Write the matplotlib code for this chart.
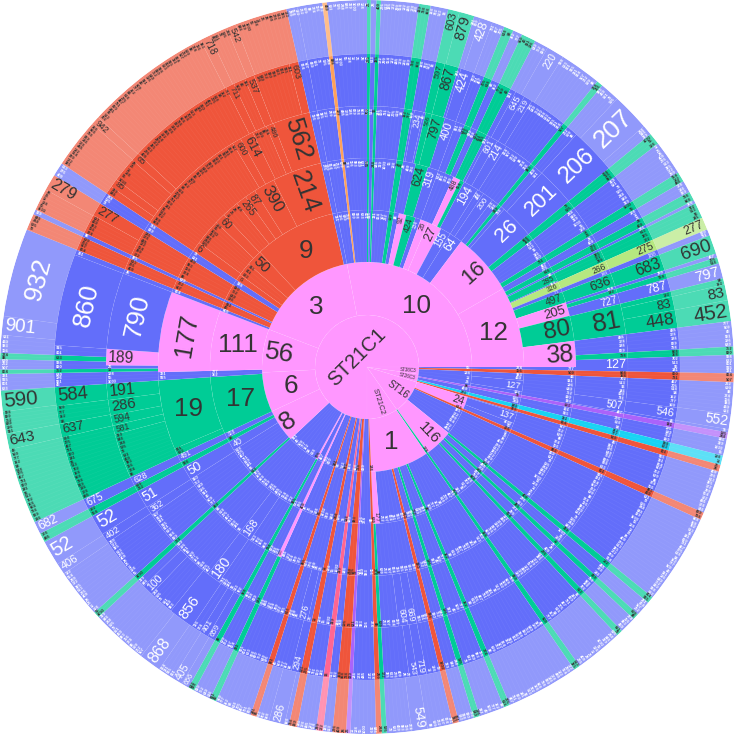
import numpy as np
import matplotlib
matplotlib.use('Agg')
import matplotlib.pyplot as plt

plt.rcParams['font.family'] = ['Liberation Sans', 'DejaVu Sans']

# group colours, same letters are used in the ring lists below
colors = {'b': '#636efa', 'g': '#00cc96', 'r': '#ef553b', 'p': '#ff97ff', 'y': '#b6e880',
          'o': '#ffa15a', 'v': '#ab63fa', 'c': '#19d3f3', 'h': '#ff6692'}

ring_edges = [0, 52, 105, 157, 209, 261, 313, 367]

# ids of the tiny nodes, too small to read one by one
tiny_ids = ['55', '138', '11', '26', '28', '409', '276', '613', '385', '172', '299', '554',
            '122', '445', '178', '146', '839', '728', '668', '358', '702', '513', '96', '341',
            '860', '731', '467', '205', '618', '94', '352', '777', '509', '43', '921', '186',
            '640', '752', '820', '938', '633', '801', '915', '331', '864', '507', '262', '699',
            '88', '374', '156', '983', '430', '621', '72', '595', '248', '846', '319', '1003']

# (angular share, group, label), '.' is a node with only a tiny id
top_bands = [(4, 'b', '.'), (.7, 'o', '.'), (6.3, 'b', '.'), (.6, 'g', '.'), (.9, 'b', '.'), (.7, 'g', '.'),
             (6, 'b', '.'), (1.8, 'g', '.')]
east_a = [(1, 'b', '.'), (1.4, 'r', '.')]
east_b = [(1, 'v', '.'), (2.7, 'b', '.'), (1.5, 'c', '.'), (1.1, 'r', '.')]
fan = [(14.3, 'b', '.'), (1.1, 'g', '.'), (2.4, 'b', '.'), (1, 'g', '.'), (2.6, 'b', '.'), (1, 'g', '.'),
       (7.6, 'b', '.'), (1, 'g', '.'), (11.5, 'b', '.'), (1, 'g', '.'), (4, 'b', '.'), (1, 'g', '.'),
       (2.4, 'b', '.'), (1, 'r', '.')]
south_a = [(.9, 'r', '.'), (4, 'b', '.'), (.7, 'v', '.'), (2.1, 'r', '.'), (1.5, 'b', '.'), (1.1, 'h', '.'),
           (3, 'b', '.'), (1.3, 'r', '.')]
west = [(1, 'b', '.'), (2.6, 'r', '.'), (.8, 'b', '.'), (6.1, 'r', '.'), (2.2, 'b', '.')]
green_run = [(1.9, 'g', '.'), (5.5, 'b', '.'), (1.6, 'g', '.'), (1.9, 'b', '.'), (1.5, 'g', '.'), (.5, 'b', '.'),
             (2.5, 'g', '.')]

ring0 = [(270, 'p', 'ST21C1'), (8, 'p', 'ST38C3'), (9, 'p', 'ST26C3'), (38, 'p', 'ST16'), (35, 'p', 'ST21C2')]

ring1 = [(101, 'p', '10')] + east_a + [(7.9, 'b', '.')] + east_b + [
    (6.8, 'p', '24'), (1.2, 'r', '.'), (14.4, 'b', '.'), (15.6, 'p', '116'), (1, 'g', '.'), (32.1, 'p', '1')
] + south_a + [
    (5.2, 'b', '.'), (1, 'r', '.'), (5.8, 'b', '.'), (1, 'p', '.'), (2.8, 'b', '.'), (1, 'p', '.'), (17.6, 'b', '.'),
    (18.3, 'p', '8'), (22, 'p', '6'), (24, 'p', '56'), (58, 'p', '3')]

ring2 = top_bands + [
    (1.8, 'b', '.'), (2.7, 'p', '92'), (3.5, 'g', '424'), (2, 'b', '234'), (3, 'p', '26'), (5.2, 'p', '27'),
    (3.8, 'b', '155'), (4.9, 'b', '64'), (23.1, 'p', '16'), (30, 'p', '12')
] + east_a + [(2.6, 'b', '.'), (4, 'b', '127'), (1.3, 'b', '.')] + east_b + [
    (.4, 'b', '.'), (4, 'b', '137'), (2.4, 'b', '.'), (1.2, 'r', '.')
] + fan + [(8.9, 'b', '.'), (2.3, 'p', '177')] + south_a + [
    (5.2, 'b', '.'), (1, 'r', '.'), (5.8, 'b', '.'), (1, 'p', '.'), (2.8, 'b', '.'), (1, 'g', '.'), (17.9, 'b', '.'),
    (1, 'g', '.'), (10, 'b', '.'), (3.5, 'b', '40'), (1.5, 'g', '.'), (2, 'b', '328'), (21.3, 'g', '17'),
    (2.3, 'b', '.'), (22.4, 'p', '111')
] + west + [(2.3, 'r', '6'), (5, 'r', '.'), (6, 'r', '50'), (30.3, 'r', '9'), (1.7, 'b', '.')]

ring3 = top_bands + [
    (3.5, 'b', '.'), (3.5, 'g', '624'), (3, 'b', '319'), (4.5, 'b', '.'), (2, 'p', '488'), (1.2, 'g', '.'),
    (4.3, 'b', '194'), (1.9, 'b', '.'), (3, 'b', '200'), (2, 'b', '.'), (1, 'g', '.'), (1.1, 'b', '.'),
    (9.6, 'b', '26'), (1.9, 'g', '.'), (5.5, 'b', '.'), (1.6, 'g', '.'), (1.9, 'b', '.'), (1.5, 'g', '.'),
    (.5, 'b', '.'), (2.2, 'g', '285'), (.3, 'b', '.'), (2, 'y', '326'), (1, 'b', '171'), (3, 'g', '497'),
    (3.8, 'p', '205'), (7, 'g', '80'), (7.2, 'p', '38')
] + east_a + [(7.9, 'b', '.')] + east_b + [(6.8, 'b', '.'), (1.2, 'r', '.')] + fan + [
    (10.4, 'b', '.'), (.8, 'g', '.')
] + south_a + [
    (5.2, 'b', '.'), (1, 'r', '.'), (5.8, 'b', '.'), (1, 'p', '243'), (2.8, 'b', '.'), (1, 'g', '.'), (4.9, 'b', '.'),
    (3.5, 'b', '168'), (9.5, 'b', '.'), (1, 'g', '.'), (9.5, 'b', '.'), (4, 'b', '50'), (1.5, 'g', '.'),
    (2, 'b', '491'), (2, 'g', '.'), (19.3, 'g', '19'), (2.3, 'b', '.'), (22.4, 'p', '177')
] + west + [
    (2.8, 'r', '6'), (7.3, 'r', '.'), (3, 'r', '60'), (4.7, 'r', '.'), (3, 'r', '265'), (3, 'r', '87'),
    (6, 'r', '390'), (13.8, 'r', '214'), (1.7, 'b', '.')]

ring4 = top_bands + [
    (.5, 'b', '.'), (2, 'b', '234'), (.5, 'b', '.'), (1.4, 'g', '566'), (3, 'g', '797'), (2.6, 'b', '400'),
    (2, 'b', '.'), (1.5, 'g', '.'), (1.5, 'b', '.'), (2.3, 'g', '.'), (.7, 'b', '.'), (2, 'b', '601'),
    (2.3, 'b', '214'), (6.6, 'b', '.'), (1, 'g', '.'), (2.1, 'b', '.'), (8.6, 'b', '201')
] + green_run + [
    (2, 'y', '266'), (1, 'b', '183'), (3, 'g', '636'), (.6, 'b', '.'), (1, 'g', '.'), (2.4, 'b', '727'),
    (6.8, 'g', '81'), (4, 'b', '.'), (1.3, 'g', '.'), (2.9, 'b', '127'), (1.4, 'r', '.'), (5.1, 'b', '.'),
    (2.5, 'b', '507'), (.3, 'b', '.')
] + east_b + [(6.8, 'b', '.'), (1.2, 'r', '.')] + fan + [
    (2.5, 'b', '.'), (2, 'b', '669'), (2, 'b', '604'), (3.9, 'b', '.'), (.8, 'g', '.')
] + south_a + [
    (.9, 'b', '.'), (2, 'b', '276'), (2.3, 'b', '.'), (1, 'r', '.'), (5.8, 'b', '.'), (1, 'g', '.'), (2.8, 'b', '.'),
    (1, 'g', '.'), (5.4, 'b', '.'), (3, 'b', '180'), (9.5, 'b', '.'), (1, 'g', '.'), (7.5, 'b', '.'),
    (2, 'b', '362'), (4, 'b', '51'), (1.5, 'g', '.'), (2, 'b', '628'), (10, 'g', '.'), (2, 'g', '581'),
    (2.3, 'g', '594'), (3.4, 'g', '286'), (3.6, 'g', '191'), (2.6, 'b', '.'), (.7, 'g', '.'), (.8, 'b', '.'),
    (3.6, 'p', '189'), (17, 'b', '790')
] + west + [
    (25.3, 'r', '.'), (2, 'r', '600'), (3, 'r', '614'), (3.3, 'r', '.'), (1.7, 'r', '486'), (8.3, 'r', '562'),
    (1.7, 'b', '.')]

ring5 = top_bands + [
    (2.8, 'b', '.'), (1.6, 'g', '597'), (2.6, 'g', '867'), (.5, 'b', '.'), (2.4, 'b', '424'), (2.1, 'b', '.'),
    (1.5, 'g', '.'), (1.5, 'b', '.'), (2.3, 'g', '.'), (1.1, 'b', '.'), (1.8, 'b', '645'), (1.6, 'b', '219'),
    (7.1, 'b', '.'), (1, 'g', '.'), (2.1, 'b', '.'), (8.6, 'b', '206')
] + green_run + [
    (2, 'y', '275'), (1, 'b', '188'), (3, 'g', '683'), (.6, 'b', '.'), (1, 'g', '.'), (2.4, 'b', '787'),
    (1, 'g', '.'), (2.5, 'g', '83'), (3.3, 'g', '448'), (4, 'b', '.'), (1.3, 'g', '.'), (2.9, 'b', '.'),
    (1.4, 'r', '.'), (5.1, 'b', '.'), (2.3, 'b', '546'), (.5, 'b', '.')
] + east_b + [(6.8, 'b', '.'), (1.2, 'r', '.')] + fan + [
    (2.5, 'b', '.'), (1.7, 'b', '719'), (1.5, 'b', '543'), (4.7, 'b', '.'), (.8, 'g', '.')
] + south_a + [
    (1.7, 'b', '294'), (3.5, 'b', '.'), (1, 'r', '.'), (5.8, 'b', '.'), (1, 'g', '.'), (2.8, 'b', '.'), (1, 'g', '.'),
    (1.5, 'b', '659'), (1.6, 'b', '401'), (1.8, 'b', '.'), (4.8, 'b', '856'), (4.7, 'b', '.'), (2, 'b', '100'),
    (1.5, 'b', '.'), (1, 'g', '.'), (7.9, 'b', '.'), (1.8, 'b', '402'), (3.8, 'b', '52'), (1.5, 'g', '.'),
    (2, 'b', '675'), (12, 'g', '.'), (2.5, 'g', '637'), (3.3, 'g', '.'), (3.5, 'g', '584'), (2.6, 'b', '.'),
    (.7, 'g', '.'), (1.6, 'b', '.'), (1, 'g', '.'), (1.8, 'b', '.'), (17, 'b', '860'), (1, 'b', '.'), (2.6, 'r', '.'),
    (.8, 'b', '.'), (3.6, 'r', '.'), (2.5, 'r', '277'), (2.2, 'b', '.'), (1.5, 'r', '.'), (1.6, 'r', '85'),
    (4.6, 'r', '.'), (1.6, 'r', '65'), (20.2, 'r', '.'), (1.6, 'r', '711'), (2.2, 'r', '.'), (1.8, 'r', '537'),
    (6.8, 'r', '.'), (1.7, 'r', '603'), (1.7, 'b', '.')]

ring6 = top_bands + [
    (2.8, 'b', '.'), (1.8, 'g', '603'), (2.4, 'g', '879'), (1, 'b', '.'), (2, 'b', '428'), (2, 'b', '.'),
    (1.5, 'g', '.'), (1.5, 'b', '.'), (2.3, 'g', '.'), (2.2, 'b', '.'), (2.8, 'b', '220'), (6.6, 'b', '.'),
    (1, 'g', '.'), (3.1, 'b', '.'), (6, 'b', '207'), (1.6, 'b', '.')
] + green_run + [
    (2, 'y', '277'), (1, 'b', '.'), (3, 'g', '690'), (.6, 'b', '.'), (1, 'g', '.'), (2.4, 'b', '797'),
    (1, 'g', '.'), (2.5, 'g', '83'), (3.3, 'g', '452'), (4, 'b', '.'), (1.3, 'g', '.'), (2.9, 'b', '.'),
    (1.4, 'r', '.'), (5, 'b', '.'), (2.4, 'b', '552'), (.5, 'b', '.')
] + east_b + [(6.8, 'b', '.'), (1.2, 'r', '.')] + fan + [
    (4, 'b', '.'), (2.5, 'b', '549'), (3.9, 'b', '.'), (.8, 'g', '.')
] + south_a + [
    (.7, 'b', '.'), (2.5, 'b', '286'), (2, 'b', '.'), (1, 'r', '.'), (5.8, 'b', '.'), (1, 'g', '.'), (2.8, 'b', '.'),
    (1, 'g', '.'), (1.2, 'b', '656'), (1.7, 'b', '405'), (2.5, 'b', '.'), (3.5, 'b', '868'), (9, 'b', '.'),
    (1, 'g', '.'), (7.7, 'b', '.'), (1.8, 'b', '406'), (4, 'b', '52'), (1.5, 'g', '.'), (2, 'b', '682'),
    (12, 'g', '.'), (2.5, 'g', '643'), (3.5, 'g', '.'), (3.3, 'g', '590'), (2.6, 'b', '.'), (.7, 'g', '.'),
    (1.6, 'b', '.'), (1, 'g', '.'), (2.8, 'b', '.'), (3, 'b', '901'), (14, 'b', '932'), (2.6, 'r', '.'),
    (.8, 'b', '.'), (3.5, 'r', '.'), (2.6, 'r', '279'), (2.2, 'b', '.'), (7.8, 'r', '.'), (1.4, 'r', '942'),
    (20.1, 'r', '.'), (1.6, 'r', '718'), (2.9, 'r', '.'), (1.5, 'r', '542'), (8.3, 'r', '.'), (1.7, 'b', '.')]

rings = [ring0, ring1, ring2, ring3, ring4, ring5, ring6]

upright = {1: ['10', '1', '3', '6'], 2: ['12', '17', '111', '9'], 3: ['19']}
tangent = {0: ['ST21C1'], 3: ['177'], 4: ['790'], 5: ['860'], 6: ['932']}

# text height in pixels where the slice width alone gives the wrong size
font_px = {(0, 'ST21C1'): 20, (0, 'ST38C3'): 4.5, (0, 'ST26C3'): 4.5, (0, 'ST16'): 10, (0, 'ST21C2'): 7.5,
           (1, '116'): 15, (2, '16'): 22, (3, '26'): 21, (4, '201'): 22, (5, '206'): 24, (3, '390'): 17,
           (5, '856'): 15, (6, '868'): 16, (6, '286'): 11, (6, '549'): 13, (6, '220'): 10, (3, '168'): 11,
           (4, '180'): 14, (5, '52'): 18, (6, '52'): 20, (3, '50'): 13, (4, '51'): 14, (6, '552'): 14,
           (5, '546'): 11, (4, '507'): 10, (2, '127'): 9, (2, '137'): 9, (3, '194'): 12, (3, '200'): 8}


def radial_rotation(theta):
    # theta is clockwise from north, text reads outwards on the right and inwards on the left
    t = theta % 360
    if t <= 180:
        return 90 - t, 'right'
    return 270 - t, 'left'


fig = plt.figure(figsize=(7.34, 7.34), dpi=100)
ax = fig.add_axes([0, 0, 1, 1], polar=True)
ax.set_theta_zero_location('N')
ax.set_theta_direction(-1)
ax.set_ylim(0, 367)
ax.axis('off')

id_pos = 0
for i, ring in enumerate(rings):
    r0, r1 = ring_edges[i], ring_edges[i + 1]
    alpha = 0.7 if i == 6 else 1
    pos = 180 if i == 0 else -11
    last_tiny = -1000
    for size, group, label in ring:
        txt_col = 'white' if group == 'b' else '#333333'
        col = matplotlib.colors.to_rgba(colors[group], alpha)
        ax.bar(np.radians(pos), r1 - r0, width=np.radians(size), bottom=r0, align='edge',
               color=col, edgecolor=(1, 1, 1, 0.08), linewidth=0.3)
        if label == '.':
            n = max(1, int(round(np.radians(size) * (r1 - 4) / 4.0)))
            step = size / n
            for k in range(n):
                th = pos + (k + .5) * step
                if k > 0:
                    ax.vlines(np.radians(pos + k * step), r0, r1, color=(1, 1, 1, 0.08), linewidth=0.3)
                # thin neighbours would print on top of each other
                if np.radians(th - last_tiny) * r1 < 3:
                    continue
                last_tiny = th
                rot, ha = radial_rotation(th)
                ax.text(np.radians(th), r1 - 1.5, tiny_ids[id_pos % len(tiny_ids)], fontsize=2.9, color=txt_col,
                        fontweight='bold', rotation=rot, ha=ha, va='center', rotation_mode='anchor')
                id_pos += 1
        else:
            th = pos + size / 2
            rm = (r0 + r1) / 2
            # text height follows the width of the slice, length follows the ring
            px = font_px.get((i, label), min(26, np.radians(size) * (r1 - 12), 85 / len(label)))
            if label in upright.get(i, []):
                ax.text(np.radians(th), rm, label, fontsize=px * .72, color=txt_col, ha='center', va='center')
            elif label in tangent.get(i, []):
                r_text = 14 if i == 0 else rm
                rot = -th if (th % 360) > 180 else 180 - th
                ax.text(np.radians(th), r_text, label, fontsize=px * .72, color=txt_col, rotation=rot,
                        ha='center', va='center', rotation_mode='anchor')
            else:
                rot, ha = radial_rotation(th)
                ax.text(np.radians(th), r1 - 2, label, fontsize=px * .72, color=txt_col, rotation=rot,
                        ha=ha, va='center', rotation_mode='anchor')
        pos += size

fig.savefig('out.png', dpi=100)
